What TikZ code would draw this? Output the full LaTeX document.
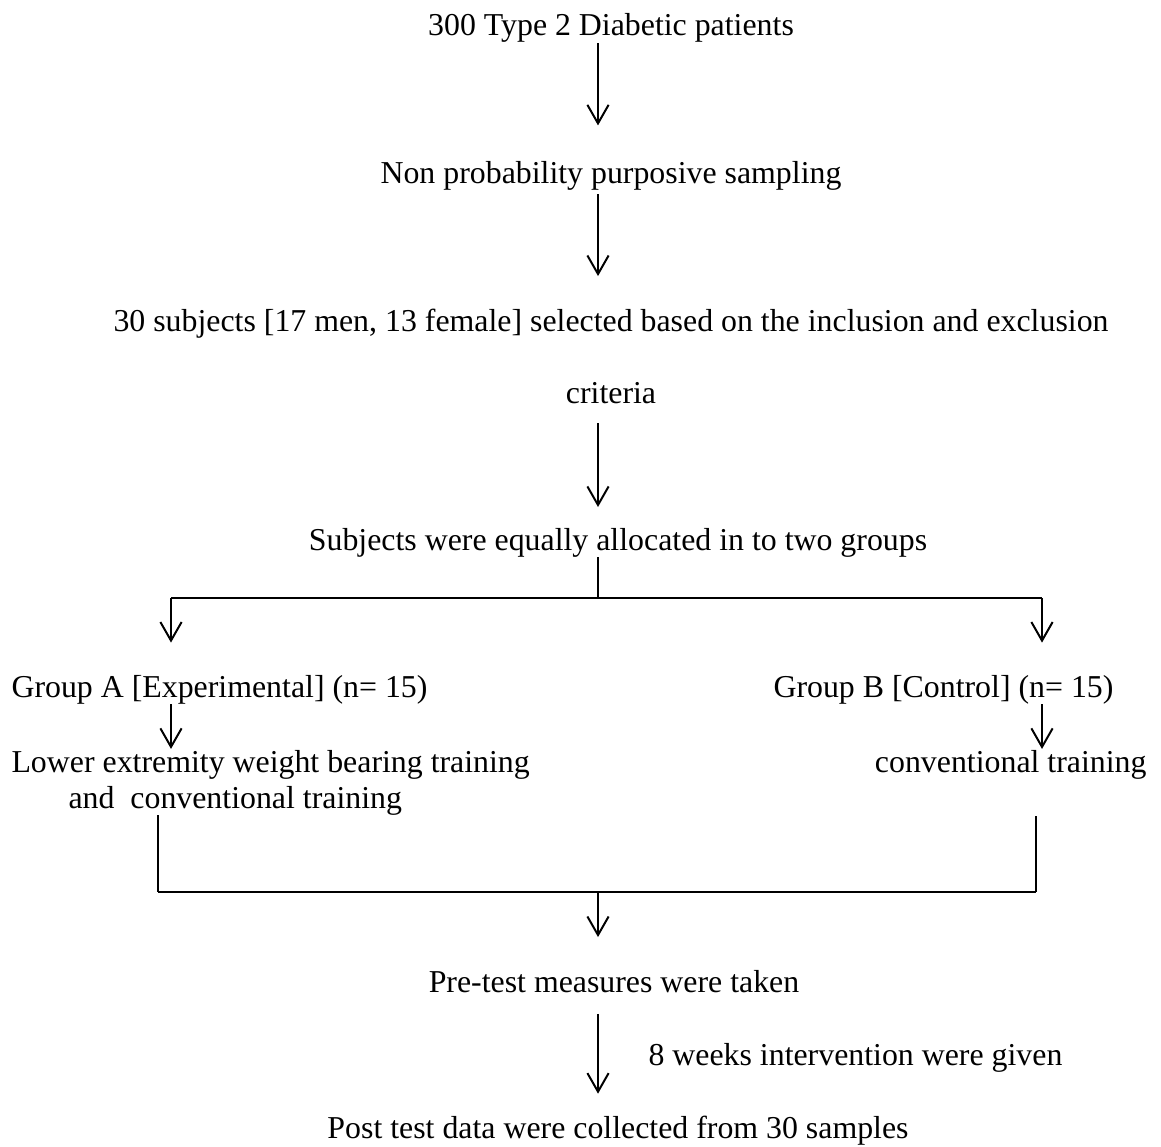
\documentclass[tikz,border=0pt]{standalone}
\usepackage{fontspec}
\setmainfont{Liberation Serif}
\usetikzlibrary{arrows.meta}

\begin{document}
\begin{tikzpicture}[x=0.3768pt,y=-0.3768pt,
		txt/.style={inner sep=0pt,text height=8.5pt,text depth=2.5pt,font=\fontsize{12}{13.6}\selectfont},
		arr/.style={line width=0.75pt,-{Straight Barb[length=7pt,width=8pt]}},
		vl/.style={line width=0.8pt},
		ln/.style={line width=1.1pt}]
	\useasboundingbox (0,0) rectangle (1161,1146);
	
	\node[txt,anchor=base] (pat) at (611,36) {300 Type 2 Diabetic patients};
	\node[txt,anchor=base] (nps) at (611,183) {Non probability purposive sampling};
	\node[txt,anchor=base] (sel) at (611,331) {30 subjects [17 men, 13 female] selected based on the inclusion and exclusion};
	\node[txt,anchor=base] (crit) at (611,403) {criteria};
	\node[txt,anchor=base] (alloc) at (618,550) {Subjects were equally allocated in to two groups};
	
	\node[txt,anchor=base west] (grpA) at (11,697) {Group A [Experimental] (n= 15)};
	\node[txt,anchor=base west] (grpB) at (773,697) {Group B [Control] (n= 15)};
	\node[txt,anchor=base west] (lowA) at (11,772) {Lower extremity weight bearing training};
	\node[txt,anchor=base west] (lowA2) at (68,808) {and~ conventional training};
	\node[txt,anchor=base east] (convB) at (1147,772) {conventional training};
	
	\node[txt,anchor=base] (pre) at (614,992) {Pre-test measures were taken};
	\node[txt,anchor=base west] (wks) at (648,1065) {8 weeks intervention were given};
	\node[txt,anchor=base] (post) at (618,1138) {Post test data were collected from 30 samples};
	
	\coordinate (col) at (598,0);
	\coordinate (split) at (598,598);
	\coordinate (brA) at (171,598);
	\coordinate (brB) at (1042,598);
	\coordinate (mA) at (158,892);
	\coordinate (mB) at (1036,892);
	\coordinate (mid) at (598,892);
	
	\draw[arr,shorten >=13pt] (pat.south -| col) -- (nps.north -| col);
	\draw[arr,shorten <=1.5pt,shorten >=12pt] (nps.south -| col) -- (sel.north -| col);
	\draw[arr,shorten <=5pt,shorten >=7.5pt] (crit.south -| col) -- (alloc.north -| col);
	
	\draw[vl] (alloc.south -| split) -- (split);
	\draw[ln] (brA) -- (brB);
	\draw[arr,shorten >=11.8pt] (brA) -- (brA |- grpA.north);
	\draw[arr,shorten >=11.8pt] (brB) -- (brB |- grpB.north);
	\draw[arr] (grpA.south -| brA) -- (lowA.north -| brA);
	\draw[arr] (grpB.south -| brB) -- (convB.north -| brB);
	
	\draw[vl] (lowA2.south -| mA) -- (mA);
	\draw[vl,shorten <=14pt] (convB.south -| mB) -- (mB);
	\draw[ln] (mA) -- (mB);
	\draw[arr,shorten >=12pt] (mid) -- (mid |- pre.north);
	\draw[arr,shorten <=5.5pt,shorten >=8pt] (pre.south -| col) -- (post.north -| col);
	
\end{tikzpicture}
\end{document}
